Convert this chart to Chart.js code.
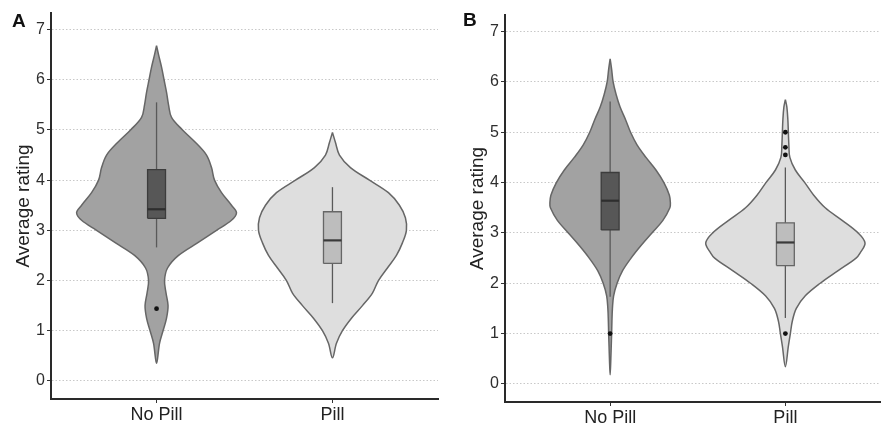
<!DOCTYPE html>
<html><head><meta charset="utf-8">
<script src="https://cdn.jsdelivr.net/npm/chart.js@4/dist/chart.umd.min.js"></script>
<style>
html,body{margin:0;padding:0;background:#fff;overflow:hidden;width:884px;height:425px;}
canvas{position:absolute;}
.lab{position:absolute;font-family:'Liberation Sans',Arial,sans-serif;font-weight:bold;font-size:19px;line-height:19px;color:#111;}
</style></head><body>
<canvas id="cA" width="442" height="425" style="left:0;top:0"></canvas>
<canvas id="cB" width="442" height="425" style="left:442px;top:3px"></canvas>
<div class="lab" style="left:12px;top:11px">A</div>
<div class="lab" style="left:463px;top:10px">B</div>
<script>
// ---------- data ----------
const categories = ['No Pill', 'Pill'];
const yTicks = [0, 1, 2, 3, 4, 5, 6, 7];

// Panel A violins (rating level, relative density)
const aNoPillY       = [6.68, 6.5, 6.25, 6.0, 5.75, 5.5, 5.25, 5.0, 4.75, 4.5, 4.25, 4.0, 3.75, 3.5, 3.35, 3.2, 3.0, 2.75, 2.5, 2.25, 2.0, 1.75, 1.5, 1.25, 1.0, 0.75, 0.35];
const aNoPillDensity = [0, 2, 5, 7.5, 10, 12, 15, 26, 39, 50, 55, 58, 65, 75, 80, 75, 60, 41, 22, 11, 8, 9.5, 11.5, 10, 6.5, 3, 0];
const aPillY         = [4.95, 4.75, 4.5, 4.25, 4.0, 3.75, 3.5, 3.25, 3.0, 2.75, 2.5, 2.25, 2.0, 1.75, 1.5, 1.25, 1.0, 0.75, 0.46];
const aPillDensity   = [0, 3, 7, 18, 37, 56, 67, 73, 74, 70, 64, 55, 46, 40, 30, 19, 10, 4, 0];

// Panel A boxplots [No Pill, Pill]
const aWhiskLo = [2.66, 1.55];
const aQ1      = [3.24, 2.34];
const aMedian  = [3.42, 2.80];
const aQ3      = [4.21, 3.37];
const aWhiskHi = [5.55, 3.86];
const aOutlierGroup = [1];
const aOutlierY     = [1.44];

// Panel B violins
const bNoPillY       = [6.46, 6.25, 6.0, 5.75, 5.5, 5.25, 5.0, 4.75, 4.5, 4.25, 4.0, 3.75, 3.6, 3.5, 3.25, 3.0, 2.75, 2.5, 2.25, 2.0, 1.75, 1.5, 1.25, 1.0, 0.75, 0.5, 0.18];
const bNoPillDensity = [0, 1.5, 3, 6, 10, 15.5, 20.5, 27, 36, 46, 54, 59.5, 60.5, 60, 53, 42, 31, 21, 12.5, 7, 3.5, 2.3, 1.8, 1.5, 1.1, 0.7, 0];
const bPillY         = [5.65, 5.5, 5.25, 5.0, 4.75, 4.5, 4.25, 4.0, 3.75, 3.5, 3.25, 3.0, 2.8, 2.6, 2.5, 2.25, 2.0, 1.75, 1.5, 1.25, 1.0, 0.75, 0.34];
const bPillDensity   = [0, 1.5, 2.5, 3, 3.5, 4.5, 10, 19.5, 28.5, 40, 57, 73, 80, 75, 71, 53, 35, 20, 11, 7, 5, 3, 0];

// Panel B boxplots [No Pill, Pill]
const bWhiskLo = [1.73, 1.31];
const bQ1      = [3.06, 2.35];
const bMedian  = [3.64, 2.81];
const bQ3      = [4.20, 3.20];
const bWhiskHi = [5.61, 4.30];
const bOutlierGroup = [1, 2, 2, 2, 2];
const bOutlierY     = [1.0, 5.0, 4.7, 4.55, 1.0];

// ---------- style ----------
const WSCALE = 1 / 176;     // density -> x units
const BOX_HALF = 0.051;
const FONT = "'Liberation Sans', Arial, sans-serif";
Chart.defaults.font.family = FONT;
const violinFill = ['#a2a2a2', '#dedede'];
const violinLine = '#666666';
const boxFill = ['#575757', '#bdbdbd'];
const boxLine = ['#3c3c3c', '#666666'];
const medianCol = ['#2e2e2e', '#3a3a3a'];

function violinPoints(center, ys, dens) {
  const pts = [];
  for (let i = 0; i < ys.length; i++) pts.push({x: center + dens[i] * WSCALE, y: ys[i]});
  for (let i = ys.length - 2; i >= 0; i--) pts.push({x: center - dens[i] * WSCALE, y: ys[i]});
  return pts;
}

function buildDatasets(violinY, violinD, wl, q1, med, q3, wh, og, oy) {
  const ds = [];
  for (let g = 0; g < 2; g++) {
    const c = g + 1;
    ds.push({data: violinPoints(c, violinY[g], violinD[g]), showLine: true, fill: 'shape',
      backgroundColor: violinFill[g], borderColor: violinLine, borderWidth: 1.5,
      pointRadius: 0, tension: 0.35, order: 10});
    ds.push({data: [{x: c, y: wl[g]}, {x: c, y: wh[g]}], showLine: true, fill: false,
      borderColor: '#595959', borderWidth: 1.3, pointRadius: 0, order: 8});
    ds.push({data: [{x: c - BOX_HALF, y: q1[g]}, {x: c + BOX_HALF, y: q1[g]}, {x: c + BOX_HALF, y: q3[g]},
                    {x: c - BOX_HALF, y: q3[g]}, {x: c - BOX_HALF, y: q1[g]}],
      showLine: true, fill: 'shape', backgroundColor: boxFill[g], borderColor: boxLine[g],
      borderWidth: 1.3, pointRadius: 0, tension: 0, order: 6});
    ds.push({data: [{x: c - BOX_HALF, y: med[g]}, {x: c + BOX_HALF, y: med[g]}], showLine: true,
      fill: false, borderColor: medianCol[g], borderWidth: 2.2, pointRadius: 0, order: 4});
  }
  ds.push({data: og.map((g, i) => ({x: g, y: oy[i]})), showLine: false, pointRadius: 2.4,
    pointBackgroundColor: '#111', pointBorderWidth: 0, order: 1});
  return ds;
}

function makeChart(id, datasets, xmax, pad) {
  return new Chart(document.getElementById(id), {
    type: 'scatter',
    data: {datasets},
    options: {
      responsive: false, animation: false, devicePixelRatio: 1,
      layout: {padding: pad},
      plugins: {legend: {display: false}, tooltip: {enabled: false}},
      scales: {
        x: {
          type: 'linear', min: 0.4, max: xmax,
          afterBuildTicks: s => { s.ticks = categories.map((_, i) => ({value: i + 1})); },
          afterFit: s => { s.height = 26; },
          ticks: {callback: (v, i) => categories[i], color: '#222', font: {size: 18}, padding: 1,
                  maxRotation: 0, autoSkip: false},
          grid: {drawOnChartArea: false, drawTicks: true, tickLength: 4, tickColor: '#333', tickWidth: 1},
          border: {display: true, color: '#2a2a2a', width: 2}
        },
        y: {
          type: 'linear', min: -0.36, max: 7.33,
          afterBuildTicks: s => { s.ticks = yTicks.map(v => ({value: v})); },
          afterFit: s => { s.width = 51; },
          ticks: {color: '#2e2e2e', font: {size: 16}, padding: 2},
          grid: {color: '#c8c8c8', lineWidth: 1, drawTicks: true, tickLength: 4, tickColor: '#333', tickWidth: 1},
          border: {display: true, color: '#2a2a2a', width: 2, dash: [1.5, 2]},
          title: {display: true, text: 'Average rating', color: '#222', font: {size: 19}, padding: {top: 12, bottom: 0}}
        }
      }
    }
  });
}

makeChart('cA', buildDatasets([aNoPillY, aPillY], [aNoPillDensity, aPillDensity],
  aWhiskLo, aQ1, aMedian, aQ3, aWhiskHi, aOutlierGroup, aOutlierY), 2.6, {left: 0, right: 4, top: 13, bottom: 0});
makeChart('cB', buildDatasets([bNoPillY, bPillY], [bNoPillDensity, bPillDensity],
  bWhiskLo, bQ1, bMedian, bQ3, bWhiskHi, bOutlierGroup, bOutlierY), 2.54, {left: 12, right: 0, top: 12, bottom: 0});
</script>
</body></html>
